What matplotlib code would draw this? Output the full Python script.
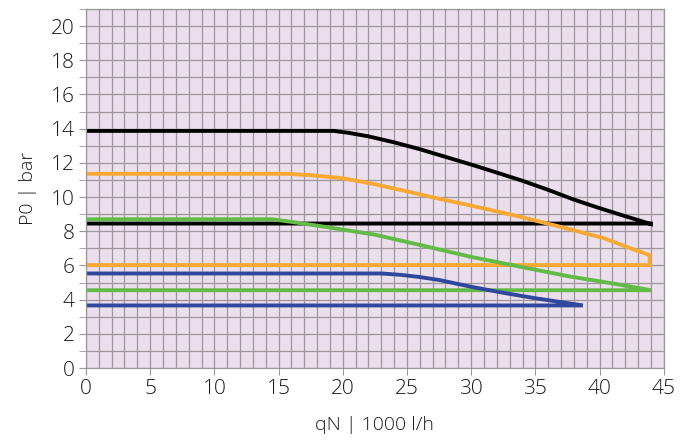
import matplotlib
matplotlib.use("Agg")
import matplotlib.pyplot as plt
import numpy as np

# envelope curves: upper curve, then flat lower line back to 0
black_x = [0, 19.3, 20.5, 22, 24, 26, 28, 30, 32, 34, 36, 38, 40, 42, 44, 44, 0]
black_y = [13.87, 13.87, 13.75, 13.55, 13.2, 12.8, 12.35, 11.9, 11.43, 10.95, 10.42, 9.85, 9.35, 8.88, 8.42, 8.45, 8.45]

orange_x = [0, 15.7, 17.5, 20, 22.5, 25, 27.5, 30, 33.8, 37, 40.3, 42.6, 43.9, 43.9, 0]
orange_y = [11.36, 11.36, 11.28, 11.1, 10.75, 10.33, 9.9, 9.5, 8.85, 8.25, 7.6, 6.95, 6.6, 6.02, 6.02]

green_x = [0, 14.5, 16, 18.7, 22.5, 26, 30, 34, 37.7, 41, 44, 0]
green_y = [8.7, 8.7, 8.55, 8.25, 7.8, 7.2, 6.5, 5.9, 5.35, 4.95, 4.55, 4.55]

blue_x = [0, 23, 24.5, 26, 27.5, 30, 32.5, 35, 38.7, 0]
blue_y = [5.53, 5.53, 5.45, 5.32, 5.15, 4.75, 4.4, 4.08, 3.66, 3.66]

x_ticks = list(range(0, 46, 5))
y_ticks = list(range(0, 21, 2))

plt.rcParams['font.family'] = ['Open Sans', 'DejaVu Sans']
plt.rcParams['font.weight'] = 'light'
plt.rcParams['axes.labelweight'] = 'light'

txt_col = '#1a1a1a'

fig = plt.figure(figsize=(6.9, 4.41), dpi=100)
ax = fig.add_axes([0.1246, 0.1655, 0.962 - 0.1246, 0.9796 - 0.1655])
ax.set_facecolor('#ecdfed')

grid_col = '#9b979d'
ax.set_xlim(0, 45)
ax.set_ylim(0, 21)
ax.set_xticks(x_ticks)
ax.set_xticks(np.arange(0, 46, 1), minor=True)
ax.set_yticks(y_ticks)
ax.set_yticks(np.arange(0, 22, 1), minor=True)
ax.grid(True, which='both', color=grid_col, linewidth=0.9)
ax.set_axisbelow(True)

for s in ax.spines.values():
    s.set_color(grid_col)
    s.set_linewidth(0.9)

ax.tick_params(axis='both', which='major', length=5, color=grid_col,
               labelsize=15, labelcolor=txt_col, pad=3)
ax.tick_params(axis='y', which='minor', length=5, color=grid_col)
ax.tick_params(axis='x', which='minor', length=0)

lw = 2.8
ax.plot(black_x, black_y, color='#000000', lw=lw, solid_joinstyle='miter')
ax.plot(orange_x, orange_y, color='#f9a834', lw=lw, solid_joinstyle='miter')
ax.plot(green_x, green_y, color='#63bb47', lw=lw, solid_joinstyle='miter')
ax.plot(blue_x, blue_y, color='#2f479c', lw=lw, solid_joinstyle='miter')

ax.set_xlabel('qN | 1000 l/h', fontsize=14, color=txt_col, labelpad=12)
ax.set_ylabel('P0 | bar', fontsize=14, color=txt_col, labelpad=10)

fig.savefig('out.png', dpi=100)
